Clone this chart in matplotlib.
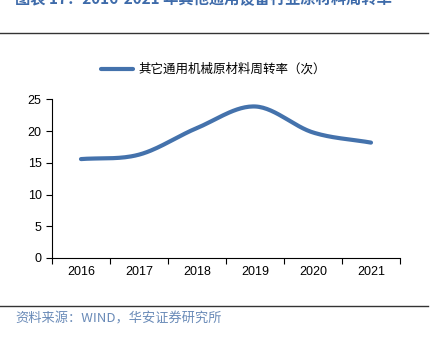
import matplotlib.pyplot as plt
import numpy as np

plt.rcParams['font.family'] = ['Noto Sans CJK SC', 'DejaVu Sans']

years = ['2016', '2017', '2018', '2019', '2020', '2021']
turnover = [15.6, 16.3, 20.5, 23.9, 19.8, 18.2]

line_color = '#4472AC'


def smooth(xs, ys, n=30):
    # Catmull-Rom curve through the points, like Excel's smoothed line
    px = np.r_[2 * xs[0] - xs[1], xs, 2 * xs[-1] - xs[-2]]
    py = np.r_[2 * ys[0] - ys[1], ys, 2 * ys[-1] - ys[-2]]
    out_x, out_y = [], []
    t = np.linspace(0, 1, n)
    for i in range(1, len(px) - 2):
        for p, out in ((px, out_x), (py, out_y)):
            p0, p1, p2, p3 = p[i - 1], p[i], p[i + 1], p[i + 2]
            out.extend(0.5 * (2 * p1 + (-p0 + p2) * t
                              + (2 * p0 - 5 * p1 + 4 * p2 - p3) * t ** 2
                              + (-p0 + 3 * p1 - 3 * p2 + p3) * t ** 3))
    return out_x, out_y


fig = plt.figure(figsize=(4.35, 3.39), dpi=100)
ax = fig.add_axes([0.1195, 0.239, 0.80, 0.4675])

x = np.arange(len(years), dtype=float)
sx, sy = smooth(x, np.array(turnover, dtype=float))
ax.plot(sx, sy, color=line_color, lw=3, solid_capstyle='round',
        label='其它通用机械原材料周转率（次）')

ax.set_xlim(-0.5, len(years) - 0.5)
ax.set_ylim(0, 25)
ax.set_yticks(range(0, 26, 5))
ax.set_xticks(np.arange(-0.5, len(years), 1.0))
ax.set_xticklabels([])
ax.set_xticks(x, minor=True)
ax.set_xticklabels(years, minor=True)
ax.tick_params(axis='x', which='major', direction='out', length=4, width=0.8)
ax.tick_params(axis='x', which='minor', length=0, pad=6, labelsize=9)
ax.tick_params(axis='y', direction='out', length=4, width=0.8, labelsize=9)
for lab in ax.get_xticklabels(minor=True) + ax.get_yticklabels():
    lab.set_fontfamily('Liberation Sans')
for s in ['top', 'right']:
    ax.spines[s].set_visible(False)
ax.spines['left'].set_linewidth(0.8)
ax.spines['bottom'].set_linewidth(0.8)

fig.legend(loc='center', bbox_to_anchor=(0.49, 0.795), frameon=False,
           fontsize=9, handlelength=2.6, handletextpad=0.4)

fig.text(0.035, 1.004, '图表 17：2016-2021 年其他通用设备行业原材料周转率',
         color='#3E6BAA', fontsize=11, fontweight='bold', va='center')
fig.add_artist(plt.Line2D([0, 0.984], [0.902, 0.902], color='#333333', lw=1))
fig.add_artist(plt.Line2D([0, 0.984], [0.097, 0.097], color='#333333', lw=1))
fig.text(0.036, 0.06, '资料来源：WIND，华安证券研究所', color='#6A8BB8',
         fontsize=9.5, va='center')

fig.savefig('out.png', dpi=100)
